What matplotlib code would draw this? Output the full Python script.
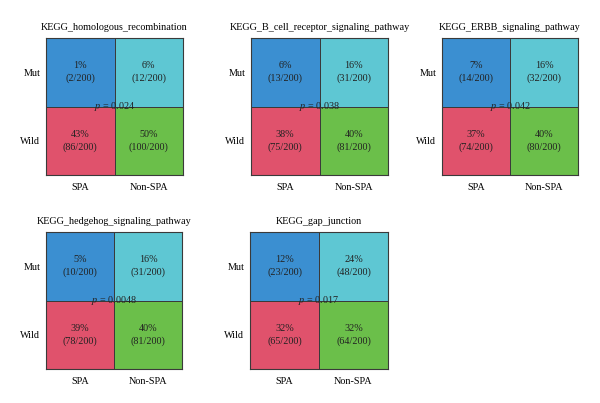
import numpy as np
import matplotlib.pyplot as plt
from matplotlib.colors import ListedColormap

# 数据：每个通路的 2x2 表 (Mut / Wild x SPA / Non-SPA)
titles = ['KEGG_homologous_recombination', 'KEGG_B_cell_receptor_signaling_pathway',
          'KEGG_ERBB_signaling_pathway', 'KEGG_hedgehog_signaling_pathway',
          'KEGG_gap_junction']
mut_spa = [2, 13, 14, 10, 23]
mut_non = [12, 31, 32, 31, 48]
wild_spa = [86, 75, 74, 78, 65]
wild_non = [100, 81, 80, 81, 64]
mut_spa_pct = [1, 6, 7, 5, 12]
mut_non_pct = [6, 16, 16, 16, 24]
wild_spa_pct = [43, 38, 37, 39, 32]
wild_non_pct = [50, 40, 40, 40, 32]
p_values = ['0.024', '0.038', '0.042', '0.0048', '0.017']
total = 200
row_labels = ['Mut', 'Wild']
col_labels = ['SPA', 'Non-SPA']

plt.rcParams['font.family'] = ['Liberation Serif', 'DejaVu Serif']
plt.rcParams['mathtext.fontset'] = 'stix'
cmap = ListedColormap(['#3b8fd1', '#5ec7d3', '#e0526c', '#6bbf4a'])

# 面板位置 (像素: 左, 上, 宽, 高)
W, H = 600, 403
boxes = [(46, 38, 137, 137), (251, 38, 137, 137), (442, 38, 136, 137),
         (46, 232, 136, 137), (250, 232, 138, 137)]

fig = plt.figure(figsize=(6, 4.03), dpi=100)
for k in range(5):
    l, t, w, h = boxes[k]
    ax = fig.add_axes([l / W, 1 - (t + h) / H, w / W, h / H])
    grid = np.array([[0, 1], [2, 3]])
    ax.pcolormesh(grid, cmap=cmap, vmin=-0.5, vmax=3.5, edgecolors='#3a3a3a', linewidth=0.6)
    ax.set_xlim(0, 2)
    ax.set_ylim(2, 0)
    counts = [[mut_spa[k], mut_non[k]], [wild_spa[k], wild_non[k]]]
    pcts = [[mut_spa_pct[k], mut_non_pct[k]], [wild_spa_pct[k], wild_non_pct[k]]]
    for i in range(2):
        for j in range(2):
            ax.text(j + 0.5, i + 0.5, f'{pcts[i][j]}%\n({counts[i][j]}/{total})',
                    ha='center', va='center', fontsize=7.3, color='#222222', linespacing=1.45)
    ax.text(1, 1, f'$\\it{{p}}$ = {p_values[k]}', ha='center', va='center',
            fontsize=7.3, color='#222222')
    ax.set_xticks([0.5, 1.5])
    ax.set_xticklabels(col_labels)
    ax.set_yticks([0.5, 1.5])
    ax.set_yticklabels(row_labels)
    ax.tick_params(axis='y', length=0, labelsize=7.3, pad=4)
    ax.tick_params(axis='x', length=0, labelsize=7.3, pad=6)
    ax.set_title(titles[k], fontsize=7.3, pad=6)
    for s in ax.spines.values():
        s.set_color('#3a3a3a')
        s.set_linewidth(0.8)

plt.savefig('out.png', dpi=100)
